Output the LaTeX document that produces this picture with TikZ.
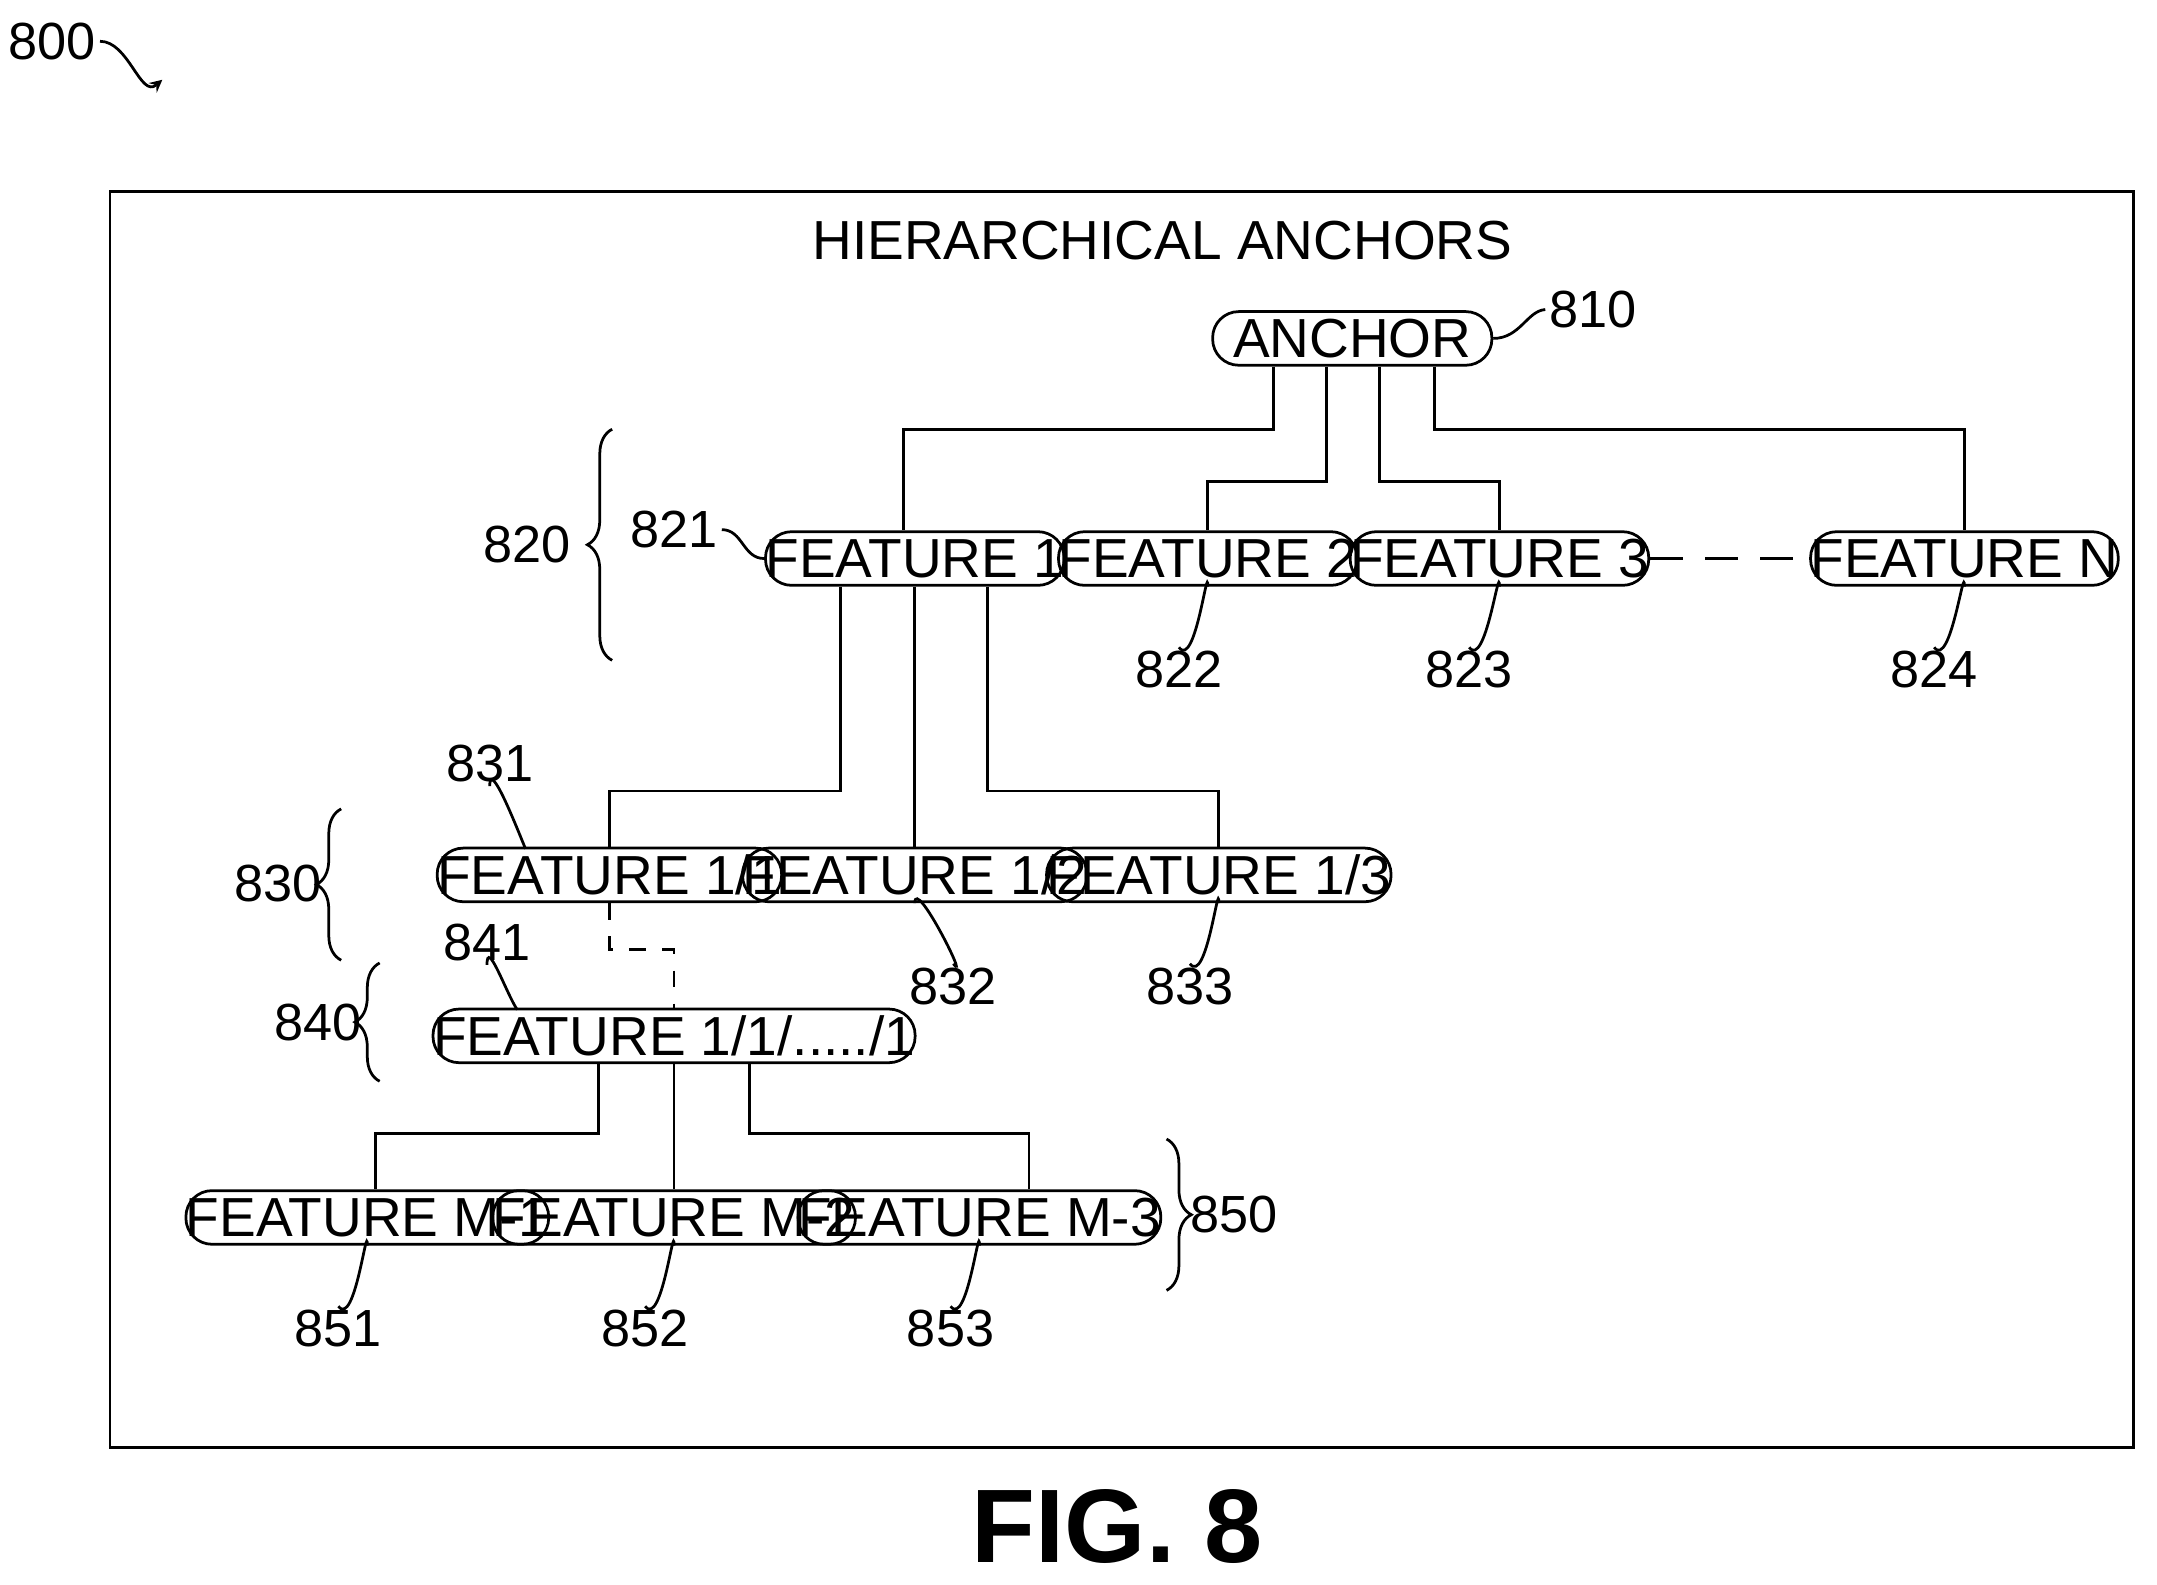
\documentclass[tikz,border=0pt]{standalone}
\usepackage{fontspec}
\setmainfont{Liberation Sans}
\usetikzlibrary{decorations.pathreplacing}
\tikzset{every picture/.style={line width=1pt}}
\tikzset{
  feat/.style={draw, rounded corners=9.5pt, minimum height=19.5pt, inner sep=0pt, font=\fontsize{20}{24}\selectfont},
  lbl/.style={inner sep=1pt, font=\fontsize{19}{22}\selectfont},
  brc/.style={decorate, decoration={brace, amplitude=9pt}},
}
\begin{document}
\begin{tikzpicture}[x=0.5pt,y=0.5pt,yscale=-1]
\useasboundingbox (0,0) rectangle (1568,1152);
\draw (80,139) rectangle (1551,1052);
\node[font=\fontsize{20}{24}\selectfont] (title) at (845,175) {HIERARCHICAL ANCHORS};
\node[font=\bfseries\fontsize{38}{44}\selectfont] (fig) at (812,1110) {FIG. 8};
\node[lbl] (l800) at (38,30) {800};
\coordinate (a800) at (118,58);
\draw[-stealth] (l800.east) to[out=0,in=140] (a800);

% nodes
\node[feat, minimum width=101.5pt] (anchor) at (983,246) {ANCHOR};
\node[feat, minimum width=102pt] (f1) at (665,406) {FEATURE 1};
\node[feat, minimum width=101.5pt] (f2) at (878,406) {FEATURE 2};
\node[feat, minimum width=102pt] (f3) at (1090,406) {FEATURE 3};
\node[feat, minimum width=101.5pt] (fn) at (1428,406) {FEATURE N};
\node[feat, minimum width=101.5pt] (f11) at (443,636) {FEATURE 1/1};
\node[feat, minimum width=101pt] (f12) at (665,636) {FEATURE 1/2};
\node[feat, minimum width=101.5pt] (f13) at (886,636) {FEATURE 1/3};
\node[feat, minimum width=155pt] (f111) at (490,753) {FEATURE 1/1/...../1};
\node[feat, minimum width=105.5pt] (m1) at (267,885) {FEATURE M-1};
\node[feat, minimum width=105pt] (m2) at (490,885) {FEATURE M-2};
\node[feat, minimum width=105.5pt] (m3) at (712,885) {FEATURE M-3};

% connectors
\draw (anchor.south -| 926,0) |- (657,312) -- (f1.north -| 657,0);
\draw (anchor.south -| 964,0) |- (878,350) -- (f2.north);
\draw (anchor.south -| 1003,0) |- (1090,350) -- (f3.north);
\draw (anchor.south -| 1043,0) |- (1428,312) -- (fn.north);
\draw (f1.south -| 611,0) |- (443,575) -- (f11.north);
\draw (f1.south) -- (f12.north);
\draw (f1.south -| 718,0) |- (886,575) -- (f13.north);
\draw[dashed, dash pattern=on 12pt off 8pt] (f3.east) -- (fn.west);
\draw[dashed, dash pattern=on 6pt off 6pt] (f11.south) |- (490,690) -- (f111.north);
\draw (f111.south -| 435,0) |- (273,824) -- (m1.north -| 273,0);
\draw (f111.south) -- (m2.north);
\draw (f111.south -| 545,0) |- (748,824) -- (m3.north -| 748,0);

% reference labels
\node[lbl] (l810) at (1158,225) {810};
\draw (anchor.east) .. controls (1105,246) and (1110,226) .. (l810.west);
\node[lbl] (l821) at (490,385) {821};
\draw (l821.east) .. controls (540,385) and (540,406) .. (f1.west);
\node[lbl] (l822) at (857,487) {822};
\node[lbl] (l823) at (1068,487) {823};
\node[lbl] (l824) at (1406,487) {824};
\node[lbl] (l832) at (693,717) {832};
\node[lbl] (l833) at (865,717) {833};
\node[lbl] (l851) at (246,966) {851};
\node[lbl] (l852) at (469,966) {852};
\node[lbl] (l853) at (691,966) {853};
\node[lbl] (l831) at (356,555) {831};
\node[lbl] (l841) at (354,685) {841};
\foreach \a/\b in {f2/l822, f3/l823, fn/l824, f12/l832, f13/l833, m1/l851, m2/l852, m3/l853}{
  \draw (\a.south) .. controls ([yshift=-10pt]\a.south) and ([xshift=6pt,yshift=8pt]\b.north) .. (\b.north);
}
\draw (l831.south) .. controls ([yshift=-10pt]l831.south) and (375,600) .. (382,617);
\draw (l841.south) .. controls ([yshift=-10pt]l841.south) and (368,722) .. (376,734);

% braces
\node[lbl] (l820) at (383,396) {820};
\draw[brc] (445,480) -- (445,312);
\node[lbl] (l830) at (202,642) {830};
\draw[brc] (248,698) -- (248,588);
\node[lbl] (l840) at (231,743) {840};
\draw[brc] (276,786) -- (276,700);
\node[lbl] (l850) at (897,883) {850};
\draw[brc] (848,828) -- (848,938);
\end{tikzpicture}
\end{document}
